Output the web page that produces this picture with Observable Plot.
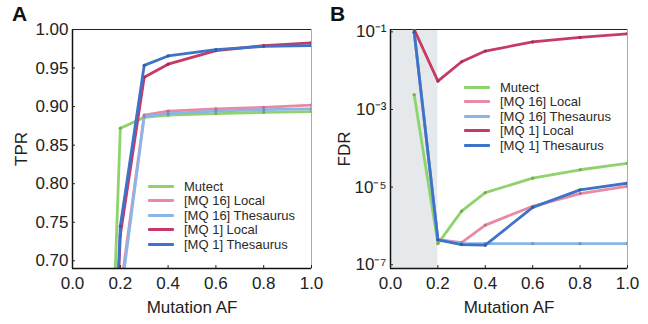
<!DOCTYPE html>
<html>
<head>
<meta charset="utf-8">
<script src="https://cdn.jsdelivr.net/npm/d3@7"></script>
<script src="https://cdn.jsdelivr.net/npm/@observablehq/plot@0.6"></script>
<style>
  html, body { margin: 0; padding: 0; background: #fff; }
  #wrap { position: relative; width: 648px; height: 324px; display: flex; font-family: "Liberation Sans", Arial, Helvetica, sans-serif; }
  .panel { position: relative; width: 324px; height: 324px; }
  .plabel { position: absolute; font-weight: bold; font-size: 21px; color: #111; }
  .legend { position: absolute; font-size: 13px; color: #2a2a2a; }
  .legend .row { display: flex; align-items: center; height: 14.5px; }
  .legend .sw { width: 26px; height: 3px; margin-right: 10px; border-radius: 1px; }
</style>
</head>
<body>
<div id="wrap">
  <div class="panel" id="pa"><div class="plabel" style="left:12px;top:2px">A</div></div>
  <div class="panel" id="pb"><div class="plabel" style="left:6px;top:2px">B</div></div>
</div>
<script>
// ---- data ----
const seriesNames = ["Mutect", "[MQ 16] Local", "[MQ 16] Thesaurus", "[MQ 1] Local", "[MQ 1] Thesaurus"];
const seriesColors = ["#8ed36b", "#e98aa3", "#8cb5e7", "#c63a63", "#3d74c9"];
const mutationAF = [0.1, 0.2, 0.3, 0.4, 0.6, 0.8, 1.0];

// Panel A: TPR
const tprMutect      = [0, 0.872, 0.886, 0.889, 0.891, 0.8926, 0.8935];
const tprMQ16Local   = [0, 0.66, 0.889, 0.894, 0.897, 0.899, 0.902];
const tprMQ16Thes    = [0, 0.65, 0.8874, 0.891, 0.894, 0.896, 0.897];
const tprMQ1Local    = [0, 0.733, 0.938, 0.955, 0.9726, 0.979, 0.9826];
const tprMQ1Thes     = [0, 0.745, 0.9535, 0.9657, 0.974, 0.978, 0.979];

// Panel B: FDR
const fdrMutect      = [2.4e-3, 3.5e-7, 2.4e-6, 7.2e-6, 1.7e-5, 2.8e-5, 4.1e-5];
const fdrMQ16Local   = [0.098, 4.4e-7, 3.7e-7, 1.05e-6, 3.2e-6, 6.8e-6, 1.05e-5];
const fdrMQ16Thes    = [0.098, 4.4e-7, 3.5e-7, 3.5e-7, 3.5e-7, 3.5e-7, 3.5e-7];
const fdrMQ1Local    = [0.115, 5.4e-3, 1.7e-2, 3.2e-2, 5.5e-2, 7.2e-2, 8.9e-2];
const fdrMQ1Thes     = [0.098, 4.4e-7, 3.3e-7, 3.2e-7, 3.0e-6, 8.5e-6, 1.26e-5];

const xTicks = [0, 0.2, 0.4, 0.6, 0.8, 1.0];
const tprTicks = [0.70, 0.75, 0.80, 0.85, 0.90, 0.95, 1.00];
const fdrTicks = [1e-7, 1e-5, 1e-3, 1e-1];
const shadedAF = [0, 0.2];

const tprSeries = [tprMutect, tprMQ16Local, tprMQ16Thes, tprMQ1Local, tprMQ1Thes];
const fdrSeries = [fdrMutect, fdrMQ16Local, fdrMQ16Thes, fdrMQ1Local, fdrMQ1Thes];

function toRows(series) {
  const rows = [];
  series.forEach((vals, s) => vals.forEach((v, i) => rows.push({series: seriesNames[s], af: mutationAF[i], v})));
  return rows;
}
const rowsA = toRows(tprSeries);
const rowsB = toRows(fdrSeries);

const font = "'Liberation Sans', Arial, Helvetica, sans-serif";
const sup = {"-": "\u207B", "0": "\u2070", "1": "\u00B9", "2": "\u00B2", "3": "\u00B3", "4": "\u2074", "5": "\u2075", "6": "\u2076", "7": "\u2077", "8": "\u2078", "9": "\u2079"};
const fmtPow = d => "10" + String(Math.round(Math.log10(d))).split("").map(c => sup[c]).join("");

function seriesMarks(rows) {
  const marks = [];
  seriesNames.forEach((name, s) => {
    const data = rows.filter(r => r.series === name);
    marks.push(Plot.line(data, {x: "af", y: "v", stroke: seriesColors[s], strokeWidth: 2.8, clip: true}));
    marks.push(Plot.dot(data, {x: "af", y: "v", r: 1.6, fill: d3.color(seriesColors[s]).darker(0.6).formatHex(), clip: true}));
  });
  return marks;
}

const chartA = Plot.plot({
  width: 324, height: 324,
  marginLeft: 72, marginRight: 13, marginTop: 29, marginBottom: 56,
  style: {fontFamily: font, fontSize: "17px", color: "#222", background: "#fff"},
  x: {domain: [0, 1]},
  y: {domain: [0.69, 1.0]},
  marks: [
    Plot.frame({stroke: "#aaa", strokeWidth: 1}),
    Plot.ruleY([1.0], {stroke: "#222", strokeWidth: 1.2}),
    ...seriesMarks(rowsA),
    Plot.ruleX([0], {stroke: "#111", strokeWidth: 1.5}),
    Plot.ruleY([0.69], {stroke: "#111", strokeWidth: 1.5}),
    Plot.axisX(xTicks, {tickSize: -3, tickPadding: 11, tickFormat: d3.format(".1f"), label: "Mutation AF", labelArrow: "none", labelAnchor: "center", labelOffset: 44}),
    Plot.axisY(tprTicks, {tickSize: -3, tickPadding: 7, tickFormat: d3.format(".2f"), label: "TPR", labelArrow: "none", labelAnchor: "center", labelOffset: 58})
  ]
});
document.getElementById("pa").appendChild(chartA);

const chartB = Plot.plot({
  width: 324, height: 324,
  marginLeft: 66, marginRight: 21, marginTop: 29, marginBottom: 56,
  style: {fontFamily: font, fontSize: "17px", color: "#222", background: "#fff"},
  x: {domain: [0, 1]},
  y: {type: "log", domain: [8e-8, 0.115]},
  marks: [
    Plot.rect([shadedAF], {x1: d => d[0], x2: d => d[1], fill: "#e6e9eb"}),
    Plot.frame({stroke: "#aaa", strokeWidth: 1}),
    Plot.ruleY([0.115], {stroke: "#222", strokeWidth: 1.2}),
    ...seriesMarks(rowsB),
    Plot.ruleX([0], {stroke: "#111", strokeWidth: 1.5}),
    Plot.ruleY([8e-8], {stroke: "#111", strokeWidth: 1.5}),
    Plot.axisX(xTicks, {tickSize: -3, tickPadding: 11, tickFormat: d3.format(".1f"), label: "Mutation AF", labelArrow: "none", labelAnchor: "center", labelOffset: 44}),
    Plot.axisY(fdrTicks, {tickSize: -3, tickPadding: 7, tickFormat: fmtPow, label: "FDR", labelArrow: "none", labelAnchor: "center", labelOffset: 53})
  ]
});
document.getElementById("pb").appendChild(chartB);

function addLegend(panelId, left, top) {
  const lg = document.createElement("div");
  lg.className = "legend";
  lg.style.left = left + "px";
  lg.style.top = top + "px";
  seriesNames.forEach((name, s) => {
    const row = document.createElement("div");
    row.className = "row";
    const sw = document.createElement("div");
    sw.className = "sw";
    sw.style.background = seriesColors[s];
    const tx = document.createElement("span");
    tx.textContent = name;
    row.appendChild(sw); row.appendChild(tx);
    lg.appendChild(row);
  });
  document.getElementById(panelId).appendChild(lg);
}
addLegend("pa", 148, 179);
addLegend("pb", 140, 80);
</script>
</body>
</html>
